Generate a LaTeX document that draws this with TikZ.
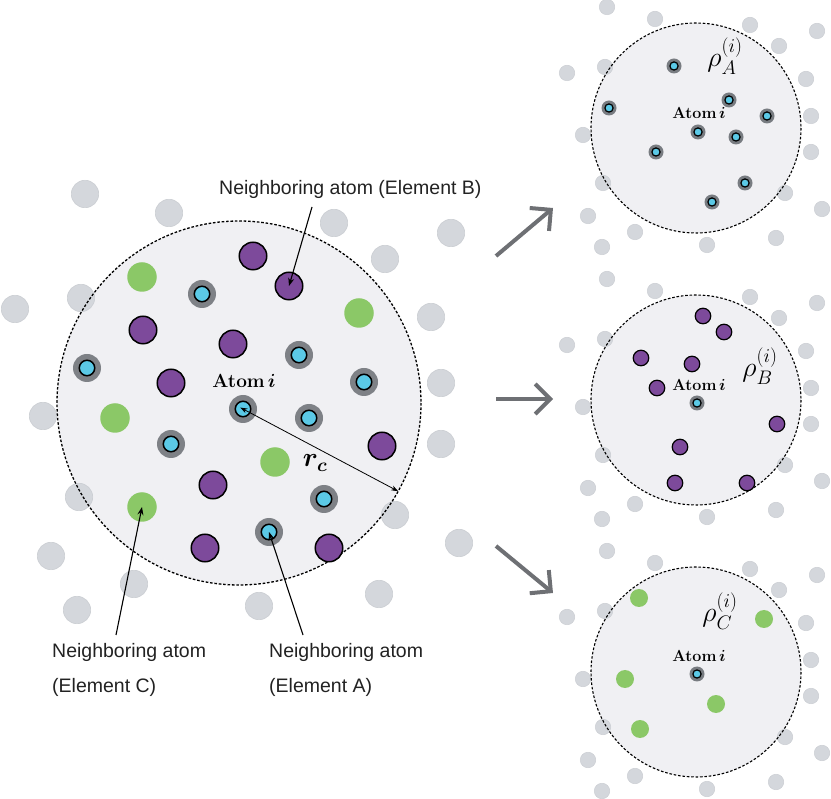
\RequirePackage{fix-cm}
\documentclass[tikz,border=0pt]{standalone}
\usepackage{amsmath,bm}
\usepackage{fontspec}
\newfontfamily\labelfont{Liberation Sans}
\usetikzlibrary{arrows.meta}

\definecolor{purpleatom}{HTML}{7D4A9B}
\definecolor{greenatom}{HTML}{8BC867}
\definecolor{cyanatom}{HTML}{5BC9E6}
\definecolor{ringgray}{HTML}{7E8186}
\definecolor{ringgraysmall}{HTML}{787C81}
\definecolor{bgatom}{HTML}{D4D7DC}
\definecolor{bgatomedge}{HTML}{CBCED3}
\definecolor{cellfill}{HTML}{F0F0F3}
\definecolor{arrowgray}{HTML}{6E7074}
\definecolor{labelcol}{HTML}{222222}

\begin{document}
\begin{tikzpicture}[x=1pt,y=-1pt,
  cell/.style={circle,fill=cellfill,inner sep=0pt,outer sep=0pt},
  cellborder/.style={draw=black,line width=1.2pt,dash pattern=on 2.6pt off 1.8pt},
  bgbig/.style={circle,fill=bgatom,draw=bgatomedge,line width=0.6pt,inner sep=0pt,minimum size=27.4pt},
  bgsmall/.style={circle,fill=bgatom,draw=bgatomedge,line width=0.5pt,inner sep=0pt,minimum size=15.5pt},
  purbig/.style={circle,fill=purpleatom,draw=black,line width=1.5pt,inner sep=0pt,minimum size=27.5pt},
  grnbig/.style={circle,fill=greenatom,inner sep=0pt,minimum size=29.5pt},
  cyabig/.style={circle,fill=ringgray,inner sep=0pt,minimum size=28pt,
     path picture={\draw[fill=cyanatom,line width=1.5pt] (path picture bounding box.center) circle[radius=7.75pt];}},
  pursmall/.style={circle,fill=purpleatom,draw=black,line width=1.2pt,inner sep=0pt,minimum size=15.5pt},
  grnsmall/.style={circle,fill=greenatom,inner sep=0pt,minimum size=18pt},
  cyasmall/.style={circle,fill=ringgraysmall,inner sep=0pt,minimum size=15pt,
     path picture={\draw[fill=cyanatom,line width=1.2pt] (path picture bounding box.center) circle[radius=4.1pt];}},
  atomlabel/.style={inner sep=0pt,font=\fontsize{19}{21}\selectfont},
  atomlabelsmall/.style={inner sep=0pt,font=\fontsize{16}{18}\selectfont},
  rholabel/.style={inner sep=0pt,font=\fontsize{28}{31}\selectfont},
  rclabelstyle/.style={inner sep=0pt,font=\fontsize{27}{30}\selectfont},
  sanslabel/.style={inner sep=0pt,text=labelcol,font=\labelfont\fontsize{19.5}{22}\selectfont},
  pointer/.style={draw=black,line width=1.1pt,-{Stealth[length=8pt,width=6pt]}},
  bigarrow/.style={draw=arrowgray,line width=4pt,-{Straight Barb[length=15pt,width=30pt]}}
]
\useasboundingbox (0,0) rectangle (831,799);

% ---------------- main cell ----------------
\node[cell,minimum size=364pt] (mainc) at (239,403) {};
\foreach \x/\y [count=\k] in {85/194,169/213,334/223,451/233,385/259,81/298,15/309,431/317,
   441/383,43/416,441/444,79/497,395/515,459/543,51/556,134/584,77/610,259/606,379/594}
   \node[bgbig] (g\k) at (\x,\y) {};
\draw[cellborder,line width=1.3pt] (mainc.center) circle[radius=182];

% purple (element B)
\foreach \x/\y [count=\k] in {253/256,289/286,143/330,233/344,171/383,382/446,213/485,205/548,329/548}
   \node[purbig] (b\k) at (\x,\y) {};
% green (element C)
\foreach \x/\y [count=\k] in {142/277,359/313,115/418,275/462,142/507}
   \node[grnbig] (c\k) at (\x,\y) {};
% cyan (element A)
\foreach \x/\y [count=\k] in {202/294,299/355,87/368,364/382,309/418,171/444,324/499,269/532}
   \node[cyabig] (a\k) at (\x,\y) {};
\node[cyabig] (ai) at (243,409) {};

\node[atomlabel] (ailabel) at (244,381) {\textbf{Atom}\,$\bm{i}$};
\node[rclabelstyle] (rclabel) at (315,463) {$\bm{r_c}$};
\draw[draw=black,line width=0.8pt,{Stealth[length=7pt,width=5pt]}-{Stealth[length=7pt,width=5pt]},shorten <=-3pt]
   (ai.center) -- (mainc.-29.4);

% labels
\node[sanslabel,anchor=base west] (lblB) at (219,195) {Neighboring atom (Element B)};
\coordinate (tB) at (312,207);
\draw[pointer] (tB) -- (b2.center);

\node[sanslabel,anchor=base west] (lblC1) at (52,658) {Neighboring atom};
\node[sanslabel,anchor=base west] (lblC2) at (52,692) {(Element C)};
\coordinate (tC) at (116,635);
\draw[pointer] (tC) -- (c5.center);

\node[sanslabel,anchor=base west] (lblA1) at (269,658) {Neighboring atom};
\node[sanslabel,anchor=base west] (lblA2) at (269,692) {(Element A)};
\coordinate (tA) at (303,635);
\draw[pointer] (tA) -- (a8.center);

% ---------------- big arrows ----------------
\coordinate (u1) at (496,256); \coordinate (u2) at (553,208);
\coordinate (m1) at (496,399); \coordinate (m2) at (553,399);
\coordinate (d1) at (496,546); \coordinate (d2) at (553,593);
\draw[bigarrow] (u1) -- (u2);
\draw[bigarrow] (m1) -- (m2);
\draw[bigarrow] (d1) -- (d2);

% ---------------- panels ----------------
\foreach \p/\dy in {A/0,B/272,C/544}{
  \node[cell,minimum size=210pt] (p\p) at (696,128+\dy) {};
  \foreach \x/\y [count=\k] in {607/7,655/19,750/25,817/31,779/46,605/67,567/73,806/79,811/116,
     583/135,811/152,603/183,785/193,822/209,588/216,635/232,602/247,707/245,776/238}
     \node[bgsmall] (q\p\k) at (\x,\y+\dy) {};
  \draw[cellborder,line width=1.1pt] (p\p.center) circle[radius=105];
}

% panel A
\foreach \x/\y [count=\k] in {674/66,609/108,729/100,767/116,736/137,656/152,745/183,712/202}
   \node[cyasmall] (pa\k) at (\x,\y) {};
\node[cyasmall] (aiA) at (698,132) {};
\node[atomlabelsmall] (labA) at (699,113) {\textbf{Atom}\,$\bm{i}$};
\node[rholabel] (rhoA) at (725,56) {$\rho_A^{(i)}$};

% panel B
\foreach \x/\y [count=\k] in {703/316,724/332,641/358,692/364,657/388,777/424,680/447,675/483,747/483}
   \node[pursmall] (pb\k) at (\x,\y) {};
\node[cyasmall] (aiB) at (697,403) {};
\node[atomlabelsmall] (labB) at (699,385) {\textbf{Atom}\,$\bm{i}$};
\node[rholabel] (rhoB) at (760,366) {$\rho_B^{(i)}$};

% panel C
\foreach \x/\y [count=\k] in {639/598,764/619,625/679,716/704,640/729}
   \node[grnsmall] (pc\k) at (\x,\y) {};
\node[cyasmall] (aiC) at (697,674) {};
\node[atomlabelsmall] (labC) at (699,656) {\textbf{Atom}\,$\bm{i}$};
\node[rholabel] (rhoC) at (720,611) {$\rho_C^{(i)}$};
\end{tikzpicture}
\end{document}
